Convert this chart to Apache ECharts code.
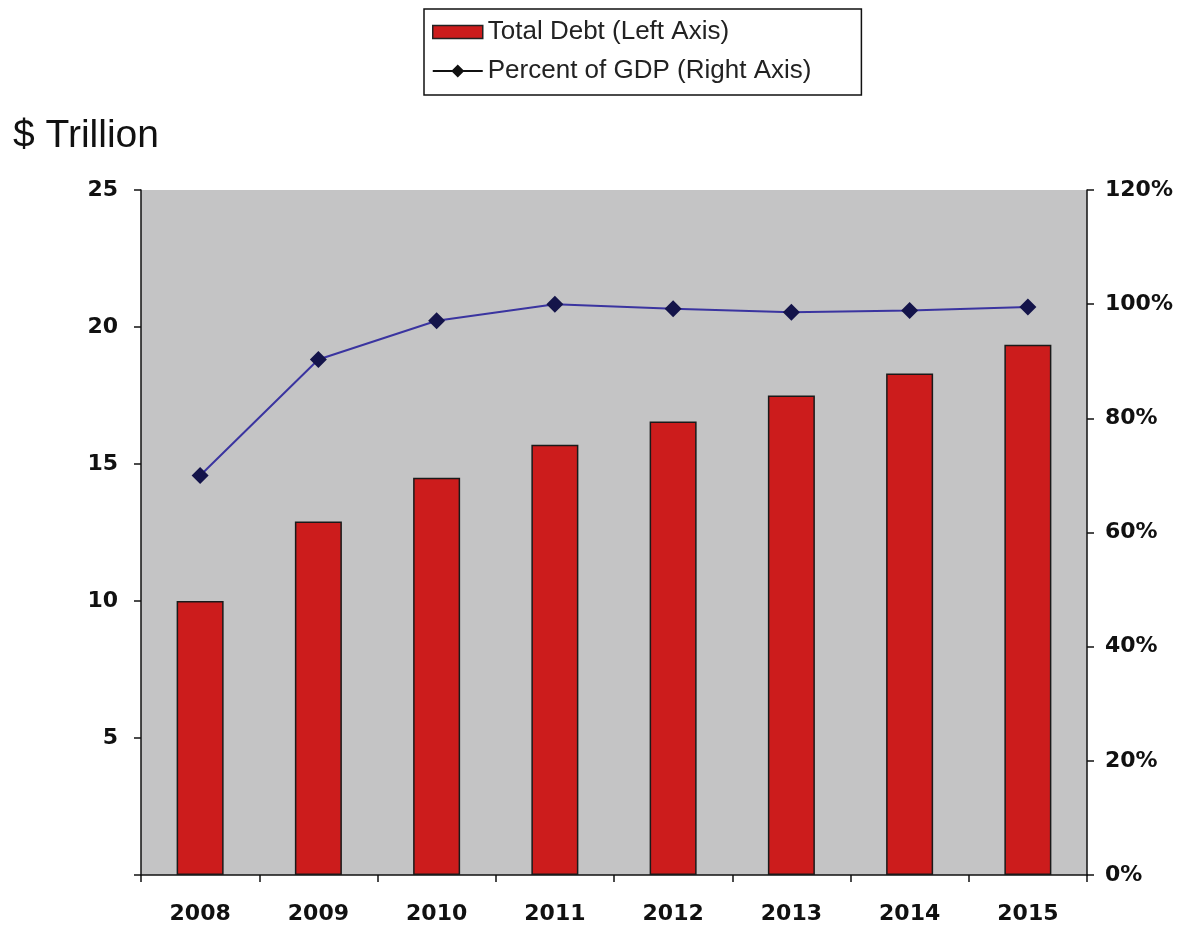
<!DOCTYPE html>
<html>
<head>
<meta charset="utf-8">
<script src="https://cdn.jsdelivr.net/npm/echarts@6/dist/echarts.min.js"></script>
<style>
  html, body { margin: 0; padding: 0; background: #ffffff; }
  #chart { width: 1184px; height: 929px; }
</style>
</head>
<body>
<div id="chart"></div>
<script>
// Federal debt outstanding and debt as a share of GDP
const years = ['2008', '2009', '2010', '2011', '2012', '2013', '2014', '2015'];
const totalDebt = [10.0, 12.9, 14.5, 15.7, 16.55, 17.5, 18.3, 19.35];   // $ trillion
const pctGdp = [70.0, 90.3, 97.1, 100.0, 99.2, 98.6, 98.9, 99.5];        // percent
const leftTicks = { min: 0, max: 25, interval: 5 };
const rightTicks = { min: 0, max: 120, interval: 20 };

const chart = echarts.init(document.getElementById('chart'), null, { renderer: 'canvas' });

const font = 'Liberation Sans, Arial, sans-serif';
const tickFont = 'DejaVu Sans, Liberation Sans, sans-serif';

// legend glyph for the line series: a short rule with a diamond marker in the middle
const lineLegendIcon = 'path://M0 5.5H50V7.5H0Z M25 0L31.5 6.5L25 13L18.5 6.5Z';

chart.setOption({
  animation: false,
  backgroundColor: '#ffffff',
  textStyle: { fontFamily: font },
  title: {
    text: '$ Trillion',
    left: 8,
    top: 112,
    textStyle: { fontFamily: font, fontSize: 39, fontWeight: 'normal', color: '#111' }
  },
  legend: {
    orient: 'vertical',
    left: 424,
    top: 9,
    padding: [10, 50, 11, 8],
    itemGap: 13,
    itemWidth: 50,
    itemHeight: 13,
    borderColor: '#111',
    borderWidth: 1.5,
    backgroundColor: '#ffffff',
    textStyle: { fontFamily: font, fontSize: 26, color: '#222' },
    data: [
      { name: 'Total Debt (Left Axis)', icon: 'rect',
        itemStyle: { color: '#cc1c1c', borderColor: '#222', borderWidth: 1.5 } },
      { name: 'Percent of GDP (Right Axis)', icon: lineLegendIcon,
        itemStyle: { color: '#111', borderWidth: 0 } }
    ]
  },
  grid: {
    left: 141,
    right: 97,
    top: 190,
    bottom: 54,
    show: true,
    backgroundColor: '#c4c4c5',
    borderWidth: 0
  },
  xAxis: {
    type: 'category',
    data: years,
    boundaryGap: true,
    axisLine: { lineStyle: { color: '#111', width: 1.5 } },
    axisTick: { show: true, alignWithLabel: false, length: 7, lineStyle: { color: '#111', width: 1.5 } },
    axisLabel: { fontFamily: tickFont, fontSize: 22, fontWeight: 'bold', color: '#111', margin: 28 }
  },
  yAxis: [
    {
      type: 'value',
      position: 'left',
      min: leftTicks.min,
      max: leftTicks.max,
      interval: leftTicks.interval,
      splitLine: { show: false },
      axisLine: { show: true, lineStyle: { color: '#111', width: 1.5 } },
      axisTick: { show: true, length: 7, lineStyle: { color: '#111', width: 1.5 } },
      axisLabel: {
        fontFamily: tickFont, fontSize: 22, fontWeight: 'bold', color: '#111', margin: 23,
        formatter: v => (v === 0 ? '' : String(v))
      }
    },
    {
      type: 'value',
      position: 'right',
      min: rightTicks.min,
      max: rightTicks.max,
      interval: rightTicks.interval,
      splitLine: { show: false },
      axisLine: { show: true, lineStyle: { color: '#111', width: 1.5 } },
      axisTick: { show: true, length: 7, lineStyle: { color: '#111', width: 1.5 } },
      axisLabel: {
        fontFamily: tickFont, fontSize: 22, fontWeight: 'bold', color: '#111', margin: 18,
        formatter: '{value}%'
      }
    }
  ],
  series: [
    {
      name: 'Total Debt (Left Axis)',
      type: 'bar',
      yAxisIndex: 0,
      data: totalDebt,
      barWidth: 47,
      itemStyle: { color: '#cc1c1c', borderColor: '#1a1a1a', borderWidth: 1.5 }
    },
    {
      name: 'Percent of GDP (Right Axis)',
      type: 'line',
      yAxisIndex: 1,
      data: pctGdp,
      symbol: 'diamond',
      symbolSize: 17,
      lineStyle: { color: '#3a34a0', width: 2 },
      itemStyle: { color: '#14144a', borderWidth: 0 },
      z: 5
    }
  ]
});
</script>
</body>
</html>
